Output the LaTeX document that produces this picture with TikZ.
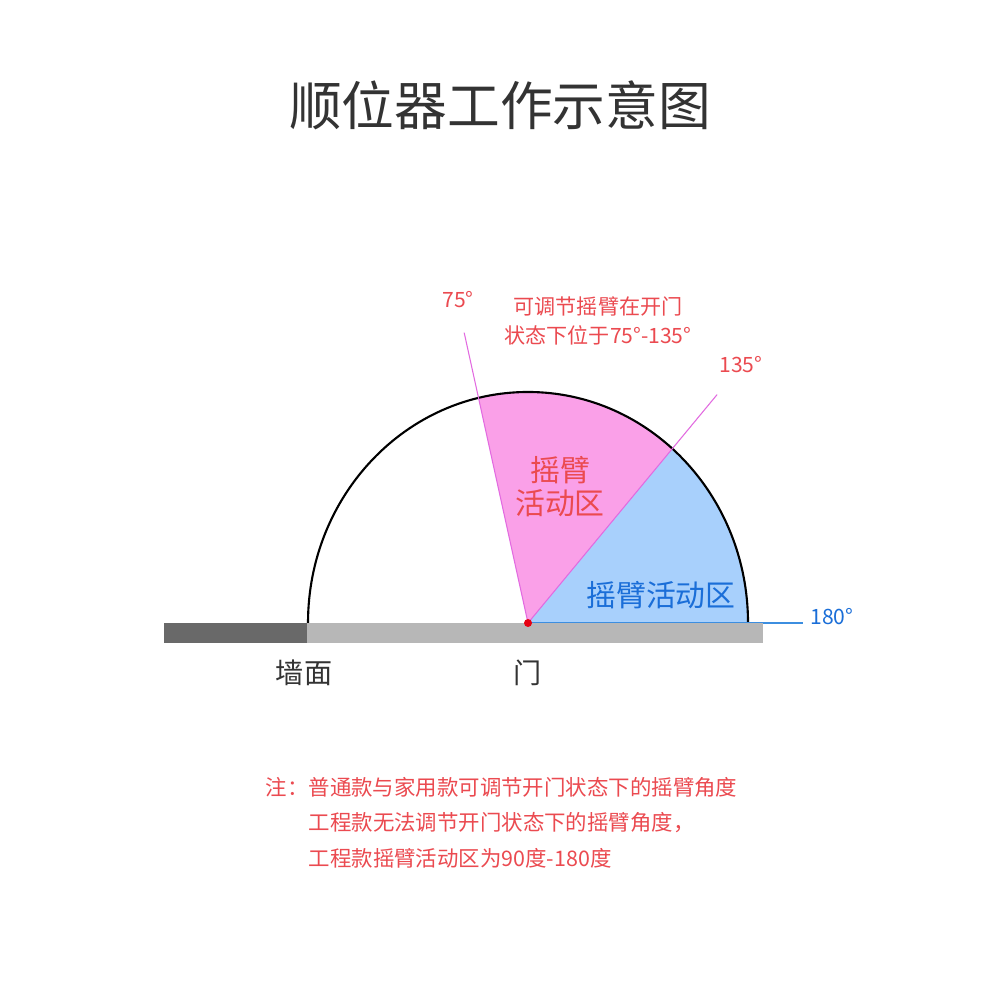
\documentclass[tikz,border=0pt]{standalone}
\usepackage{fontspec}
\setmainfont{Noto Sans CJK SC}
\definecolor{swText}{HTML}{333333}
\definecolor{swRed}{HTML}{EB4A50}
\definecolor{swBlue}{HTML}{1A6ED8}
\definecolor{swPink}{HTML}{FAA0E8}
\definecolor{swPinkLine}{HTML}{E26AE0}
\definecolor{swSky}{HTML}{A8D0FC}
\definecolor{swSkyLine}{HTML}{3C8EE0}
\definecolor{swWall}{HTML}{696969}
\definecolor{swDoor}{HTML}{B7B7B7}
\definecolor{swDot}{HTML}{E60012}
\usepackage{tikz}
\usetikzlibrary{calc,positioning}

\begin{document}
\begin{tikzpicture}[
    redlbl/.style={text=swRed, inner sep=0pt},
    bluelbl/.style={text=swBlue, inner sep=0pt},
    darklbl/.style={text=swText, inner sep=0pt},
    small/.style={font=\fontsize{6}{8.25}\selectfont},
    big/.style={font=\fontsize{8.5}{9.4}\selectfont},
    notebox/.style={redlbl, font=\fontsize{6.1}{8}\selectfont, anchor=west}
  ]
  \useasboundingbox[fill=white] (0,0) rectangle (10,10);

  % hinge point and swing limits
  \coordinate (O) at (5.28,3.77);
  \coordinate (a75) at ($(O)+(103:2.2 and 2.31)$);
  \coordinate (a135) at ($(O)+(49:2.2 and 2.31)$);
  \coordinate (e75) at ($(O)!1.29!(a75)$);
  \coordinate (e135) at ($(O)!1.31!(a135)$);
  \coordinate (e180) at (8.03,3.77);

  % sectors
  \fill[swPink] (O) -- (a75) arc[start angle=103, end angle=49, x radius=2.2, y radius=2.31] -- cycle;
  \fill[swSky] (O) -- (a135) arc[start angle=49, end angle=0, x radius=2.2, y radius=2.31] -- cycle;

  % swing arc
  \draw[black, line width=0.6pt] (3.08,3.77) arc[start angle=180, end angle=0, x radius=2.2, y radius=2.31];

  % limit lines
  \draw[swPinkLine, line width=0.3pt] (O) -- (e75);
  \draw[swPinkLine, line width=0.3pt] (O) -- (e135);
  \draw[swSkyLine, line width=0.35pt] (O) -- (e180);

  % wall and door
  \fill[swWall] (1.64,3.57) rectangle (3.07,3.77);
  \fill[swDoor] (3.07,3.57) rectangle (7.63,3.77);
  \fill[swDot] (O) circle (0.04);

  % Title
  \node[darklbl, font=\fontsize{15}{18}\selectfont] (title) at (5.00,8.95) {顺位器工作示意图};

  % Angle labels
  \node[redlbl, small] (l75) at (4.58,7.00) {75°};
  \node[redlbl, small] (l135) at (7.41,6.35) {135°};
  \node[bluelbl, small] (l180) at (8.32,3.83) {180°};
  \node[redlbl, small, align=center] (range) at (5.98,6.79) {可调节摇臂在开门\\状态下位于75°-135°};

  % Zones
  \node[redlbl, big, align=center] (pinkzone) at (5.60,5.13) {摇臂\\活动区};
  \node[bluelbl, big] (bluezone) at (6.61,4.05) {摇臂活动区};

  % Wall / door
  \node[darklbl, font=\fontsize{8}{9}\selectfont] (wall) at (3.04,3.27) {墙面};
  \node[darklbl, font=\fontsize{8}{9}\selectfont] (door) at (5.28,3.27) {门};

  % Note
  \node[notebox] (note1) at (2.65,2.13) {注：普通款与家用款可调节开门状态下的摇臂角度};
  \node[notebox] (note2) at (3.08,1.77) {工程款无法调节开门状态下的摇臂角度，};
  \node[notebox] (note3) at (3.08,1.42) {工程款摇臂活动区为90度-180度};
\end{tikzpicture}
\end{document}
